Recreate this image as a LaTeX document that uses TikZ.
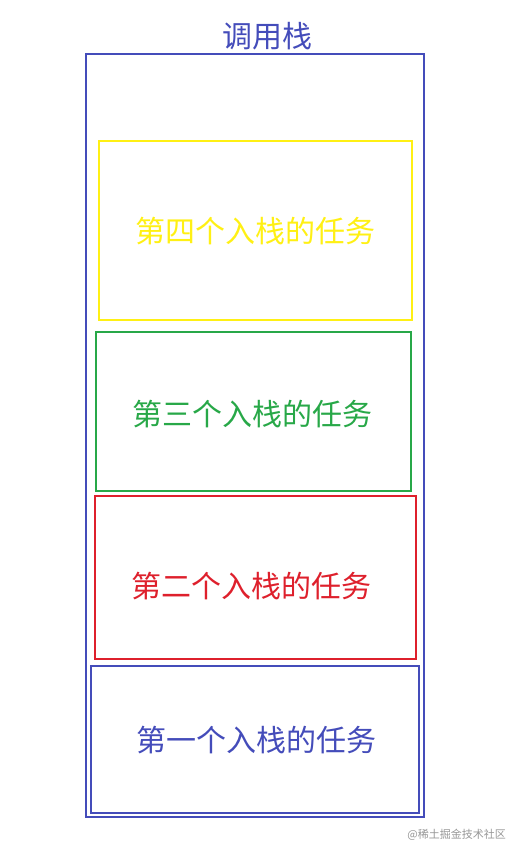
\documentclass[tikz,border=0pt]{standalone}
\usepackage{fontspec}
\newfontfamily\cjk{Noto Sans CJK SC}
\definecolor{cblue}{RGB}{68,76,186}
\definecolor{cyellow}{RGB}{255,240,20}
\definecolor{cgreen}{RGB}{40,168,72}
\definecolor{cred}{RGB}{222,32,44}
\definecolor{cgray}{RGB}{150,150,150}
\tikzset{
  boxst/.style={draw=#1, line width=2pt},
  lbl/.style={text=#1, font=\cjk\fontsize{30}{34}\selectfont, inner sep=0pt},
}
\begin{document}
\begin{tikzpicture}[x=1pt,y=-1pt]
\useasboundingbox (0,0) rectangle (509,845);
\node[lbl=cblue] (title) at (267,36) {调用栈};
\draw[boxst=cblue] (86,54) rectangle (424,817);
\draw[boxst=cyellow] (99,141) rectangle (412,320);
\draw[boxst=cgreen] (96,332) rectangle (411,491);
\draw[boxst=cred] (95,496) rectangle (416,659);
\draw[boxst=cblue] (91,666) rectangle (419,813);
\node[lbl=cyellow] (t4) at (255,231) {第四个入栈的任务};
\node[lbl=cgreen] (t3) at (252,414) {第三个入栈的任务};
\node[lbl=cred] (t2) at (251,586) {第二个入栈的任务};
\node[lbl=cblue] (t1) at (256,740) {第一个入栈的任务};
\node[text=cgray, font=\cjk\fontsize{11}{13}\selectfont, inner sep=0pt, anchor=east] (wm) at (506,835) {@稀土掘金技术社区};
\end{tikzpicture}
\end{document}
